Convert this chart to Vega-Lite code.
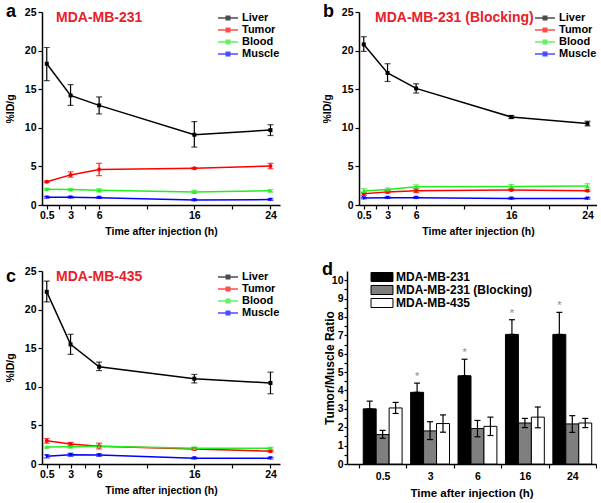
{
  "$schema": "https://vega.github.io/schema/vega-lite/v6.json",
  "autosize": {"type": "pad"},
  "padding": {"left": 5, "top": 3, "right": 0, "bottom": 0},
  "spacing": 24,
  "resolve": {"scale": {"x": "independent", "y": "independent", "color": "independent", "fill": "independent", "xOffset": "independent"}, "legend": {"color": "independent", "fill": "independent"}},
  "datasets": {
    "panelA": [
      {"t": 0.5, "organ": "Liver", "v": 18.3, "lo": 16.1, "hi": 20.4},
      {"t": 3, "organ": "Liver", "v": 14.2, "lo": 12.9, "hi": 15.6},
      {"t": 6, "organ": "Liver", "v": 12.9, "lo": 11.8, "hi": 14.0},
      {"t": 16, "organ": "Liver", "v": 9.1, "lo": 7.5, "hi": 10.8},
      {"t": 24, "organ": "Liver", "v": 9.7, "lo": 9.0, "hi": 10.4},
      {"t": 0.5, "organ": "Tumor", "v": 3.0, "lo": 2.9, "hi": 3.1},
      {"t": 3, "organ": "Tumor", "v": 3.9, "lo": 3.6, "hi": 4.3},
      {"t": 6, "organ": "Tumor", "v": 4.6, "lo": 3.8, "hi": 5.4},
      {"t": 16, "organ": "Tumor", "v": 4.75, "lo": 4.65, "hi": 4.85},
      {"t": 24, "organ": "Tumor", "v": 5.05, "lo": 4.7, "hi": 5.4},
      {"t": 0.5, "organ": "Blood", "v": 2.05, "lo": 1.95, "hi": 2.15},
      {"t": 3, "organ": "Blood", "v": 2.0, "lo": 1.9, "hi": 2.1},
      {"t": 6, "organ": "Blood", "v": 1.9, "lo": 1.7, "hi": 2.1},
      {"t": 16, "organ": "Blood", "v": 1.7, "lo": 1.5, "hi": 1.9},
      {"t": 24, "organ": "Blood", "v": 1.85, "lo": 1.7, "hi": 2.0},
      {"t": 0.5, "organ": "Muscle", "v": 1.0, "lo": 0.9, "hi": 1.1},
      {"t": 3, "organ": "Muscle", "v": 1.0, "lo": 0.9, "hi": 1.1},
      {"t": 6, "organ": "Muscle", "v": 0.95, "lo": 0.85, "hi": 1.05},
      {"t": 16, "organ": "Muscle", "v": 0.65, "lo": 0.55, "hi": 0.75},
      {"t": 24, "organ": "Muscle", "v": 0.7, "lo": 0.6, "hi": 0.8}
    ],
    "panelB": [
      {"t": 0.5, "organ": "Liver", "v": 20.8, "lo": 19.9, "hi": 21.8},
      {"t": 3, "organ": "Liver", "v": 17.1, "lo": 16.0, "hi": 18.3},
      {"t": 6, "organ": "Liver", "v": 15.1, "lo": 14.5, "hi": 15.7},
      {"t": 16, "organ": "Liver", "v": 11.4, "lo": 11.2, "hi": 11.6},
      {"t": 24, "organ": "Liver", "v": 10.55, "lo": 10.25, "hi": 10.85},
      {"t": 0.5, "organ": "Tumor", "v": 1.45, "lo": 1.25, "hi": 1.65},
      {"t": 3, "organ": "Tumor", "v": 1.7, "lo": 1.55, "hi": 1.85},
      {"t": 6, "organ": "Tumor", "v": 1.85, "lo": 1.6, "hi": 2.1},
      {"t": 16, "organ": "Tumor", "v": 1.95, "lo": 1.85, "hi": 2.05},
      {"t": 24, "organ": "Tumor", "v": 1.85, "lo": 1.75, "hi": 1.95},
      {"t": 0.5, "organ": "Blood", "v": 1.8, "lo": 1.5, "hi": 2.1},
      {"t": 3, "organ": "Blood", "v": 2.0, "lo": 1.8, "hi": 2.2},
      {"t": 6, "organ": "Blood", "v": 2.35, "lo": 2.1, "hi": 2.6},
      {"t": 16, "organ": "Blood", "v": 2.4, "lo": 2.15, "hi": 2.65},
      {"t": 24, "organ": "Blood", "v": 2.45, "lo": 2.2, "hi": 2.75},
      {"t": 0.5, "organ": "Muscle", "v": 0.9, "lo": 0.8, "hi": 1.0},
      {"t": 3, "organ": "Muscle", "v": 0.95, "lo": 0.85, "hi": 1.05},
      {"t": 6, "organ": "Muscle", "v": 0.95, "lo": 0.85, "hi": 1.05},
      {"t": 16, "organ": "Muscle", "v": 0.85, "lo": 0.75, "hi": 0.95},
      {"t": 24, "organ": "Muscle", "v": 0.85, "lo": 0.75, "hi": 0.95}
    ],
    "panelC": [
      {"t": 0.5, "organ": "Liver", "v": 22.3, "lo": 21.0, "hi": 23.7},
      {"t": 3, "organ": "Liver", "v": 15.5, "lo": 14.2, "hi": 16.8},
      {"t": 6, "organ": "Liver", "v": 12.6, "lo": 12.1, "hi": 13.2},
      {"t": 16, "organ": "Liver", "v": 11.05, "lo": 10.5, "hi": 11.6},
      {"t": 24, "organ": "Liver", "v": 10.5, "lo": 9.1, "hi": 11.9},
      {"t": 0.5, "organ": "Tumor", "v": 3.0, "lo": 2.7, "hi": 3.3},
      {"t": 3, "organ": "Tumor", "v": 2.6, "lo": 2.4, "hi": 2.8},
      {"t": 6, "organ": "Tumor", "v": 2.3, "lo": 1.95, "hi": 2.7},
      {"t": 16, "organ": "Tumor", "v": 1.95, "lo": 1.8, "hi": 2.1},
      {"t": 24, "organ": "Tumor", "v": 1.65, "lo": 1.55, "hi": 1.75},
      {"t": 0.5, "organ": "Blood", "v": 2.2, "lo": 2.1, "hi": 2.3},
      {"t": 3, "organ": "Blood", "v": 2.25, "lo": 2.1, "hi": 2.4},
      {"t": 6, "organ": "Blood", "v": 2.3, "lo": 2.15, "hi": 2.45},
      {"t": 16, "organ": "Blood", "v": 2.05, "lo": 1.9, "hi": 2.2},
      {"t": 24, "organ": "Blood", "v": 2.05, "lo": 1.95, "hi": 2.15},
      {"t": 0.5, "organ": "Muscle", "v": 1.0, "lo": 0.8, "hi": 1.2},
      {"t": 3, "organ": "Muscle", "v": 1.2, "lo": 1.0, "hi": 1.4},
      {"t": 6, "organ": "Muscle", "v": 1.15, "lo": 1.0, "hi": 1.3},
      {"t": 16, "organ": "Muscle", "v": 0.75, "lo": 0.65, "hi": 0.85},
      {"t": 24, "organ": "Muscle", "v": 0.75, "lo": 0.65, "hi": 0.85}
    ],
    "panelD": [
      {"t": "0.5", "g": "MDA-MB-231", "v": 3.0, "lo": 3.0, "hi": 3.42, "star": ""},
      {"t": "3", "g": "MDA-MB-231", "v": 3.9, "lo": 3.9, "hi": 4.4, "star": "*"},
      {"t": "6", "g": "MDA-MB-231", "v": 4.8, "lo": 4.8, "hi": 5.7, "star": "*"},
      {"t": "16", "g": "MDA-MB-231", "v": 7.05, "lo": 7.05, "hi": 7.85, "star": "*"},
      {"t": "24", "g": "MDA-MB-231", "v": 7.05, "lo": 7.05, "hi": 8.25, "star": "*"},
      {"t": "0.5", "g": "MDA-MB-231 (Blocking)", "v": 1.6, "lo": 1.4, "hi": 1.83, "star": ""},
      {"t": "3", "g": "MDA-MB-231 (Blocking)", "v": 1.8, "lo": 1.33, "hi": 2.3, "star": ""},
      {"t": "6", "g": "MDA-MB-231 (Blocking)", "v": 1.93, "lo": 1.48, "hi": 2.37, "star": ""},
      {"t": "16", "g": "MDA-MB-231 (Blocking)", "v": 2.23, "lo": 1.98, "hi": 2.48, "star": ""},
      {"t": "24", "g": "MDA-MB-231 (Blocking)", "v": 2.18, "lo": 1.72, "hi": 2.63, "star": ""},
      {"t": "0.5", "g": "MDA-MB-435", "v": 3.05, "lo": 2.75, "hi": 3.35, "star": ""},
      {"t": "3", "g": "MDA-MB-435", "v": 2.2, "lo": 1.73, "hi": 2.67, "star": ""},
      {"t": "6", "g": "MDA-MB-435", "v": 2.05, "lo": 1.55, "hi": 2.55, "star": ""},
      {"t": "16", "g": "MDA-MB-435", "v": 2.55, "lo": 1.97, "hi": 3.1, "star": ""},
      {"t": "24", "g": "MDA-MB-435", "v": 2.23, "lo": 1.98, "hi": 2.48, "star": ""}
    ]
  },
  "vconcat": [
    {
      "spacing": 79,
      "bounds": "flush",
      "resolve": {"scale": {"x": "independent", "y": "independent", "color": "independent"}, "legend": {"color": "independent"}},
      "hconcat": [
        {
          "width": 238, "height": 193,
          "title": {"text": "a", "anchor": "start", "frame": "group", "orient": "top", "offset": 0, "dx": -36, "dy": 28, "baseline": "alphabetic", "fontSize": 18, "fontWeight": "bold", "color": "black"},
          "data": {"name": "panelA"},
          "layer": [
            {
              "mark": {"type": "errorbar", "ticks": {"size": 6}, "thickness": 1.2},
              "encoding": {
                "x": {"field": "t", "type": "quantitative", "scale": {"domain": [0, 25], "nice": false}, "axis": {"values": [0.5, 1.75, 3, 4.5, 6, 11, 16, 20, 24], "labelExpr": "indexof([0.5,3,6,16,24], datum.value) >= 0 ? format(datum.value, '~g') : ''", "title": "Time after injection (h)", "labelFlush": false, "labelOverlap": false, "titlePadding": 6}},
                "y": {"field": "lo", "type": "quantitative", "scale": {"domain": [0, 25], "nice": false}, "axis": {"values": [0, 5, 10, 15, 20, 25], "title": "%ID/g", "titlePadding": 9, "labelOverlap": false}},
                "y2": {"field": "hi"},
                "color": {"field": "organ", "type": "nominal", "scale": {"domain": ["Liver", "Tumor", "Blood", "Muscle"], "range": ["black", "#ff0000", "#22ee22", "#0000ff"]}, "legend": {"title": null, "orient": "top-right", "offset": 0, "padding": 0, "symbolType": "M-2,0H2M-0.35,-0.35H0.35V0.35H-0.35Z", "symbolSize": 100, "symbolStrokeWidth": 1.5, "labelOffset": 8, "labelFontSize": 11, "labelFontWeight": "bold", "rowPadding": 1}}
              }
            },
            {
              "mark": {"type": "line", "strokeWidth": 1.5},
              "encoding": {
                "x": {"field": "t", "type": "quantitative", "axis": {"values": [0.5, 1.75, 3, 4.5, 6, 11, 16, 20, 24], "labelExpr": "indexof([0.5,3,6,16,24], datum.value) >= 0 ? format(datum.value, '~g') : ''", "title": "Time after injection (h)", "labelFlush": false, "labelOverlap": false, "titlePadding": 6}},
                "y": {"field": "v", "type": "quantitative", "axis": {"values": [0, 5, 10, 15, 20, 25], "title": "%ID/g", "titlePadding": 9, "labelOverlap": false}},
                "color": {"field": "organ", "type": "nominal"}
              }
            },
            {
              "transform": [{"filter": "datum.organ == 'Liver'"}],
              "mark": {"type": "point", "shape": "square", "filled": true, "size": 16, "opacity": 1},
              "encoding": {
                "x": {"field": "t", "type": "quantitative", "axis": {"values": [0.5, 1.75, 3, 4.5, 6, 11, 16, 20, 24], "labelExpr": "indexof([0.5,3,6,16,24], datum.value) >= 0 ? format(datum.value, '~g') : ''", "title": "Time after injection (h)", "labelFlush": false, "labelOverlap": false, "titlePadding": 6}},
                "y": {"field": "v", "type": "quantitative", "axis": {"values": [0, 5, 10, 15, 20, 25], "title": "%ID/g", "titlePadding": 9, "labelOverlap": false}},
                "color": {"field": "organ", "type": "nominal"}
              }
            },
            {
              "transform": [{"filter": "datum.organ == 'Tumor'"}],
              "mark": {"type": "point", "shape": "circle", "filled": true, "size": 16, "opacity": 1},
              "encoding": {
                "x": {"field": "t", "type": "quantitative", "axis": {"values": [0.5, 1.75, 3, 4.5, 6, 11, 16, 20, 24], "labelExpr": "indexof([0.5,3,6,16,24], datum.value) >= 0 ? format(datum.value, '~g') : ''", "title": "Time after injection (h)", "labelFlush": false, "labelOverlap": false, "titlePadding": 6}},
                "y": {"field": "v", "type": "quantitative", "axis": {"values": [0, 5, 10, 15, 20, 25], "title": "%ID/g", "titlePadding": 9, "labelOverlap": false}},
                "color": {"field": "organ", "type": "nominal"}
              }
            },
            {
              "transform": [{"filter": "datum.organ == 'Blood'"}],
              "mark": {"type": "point", "shape": "triangle-up", "filled": true, "size": 18, "opacity": 1},
              "encoding": {
                "x": {"field": "t", "type": "quantitative", "axis": {"values": [0.5, 1.75, 3, 4.5, 6, 11, 16, 20, 24], "labelExpr": "indexof([0.5,3,6,16,24], datum.value) >= 0 ? format(datum.value, '~g') : ''", "title": "Time after injection (h)", "labelFlush": false, "labelOverlap": false, "titlePadding": 6}},
                "y": {"field": "v", "type": "quantitative", "axis": {"values": [0, 5, 10, 15, 20, 25], "title": "%ID/g", "titlePadding": 9, "labelOverlap": false}},
                "color": {"field": "organ", "type": "nominal"}
              }
            },
            {
              "transform": [{"filter": "datum.organ == 'Muscle'"}],
              "mark": {"type": "point", "shape": "triangle-down", "filled": true, "size": 18, "opacity": 1},
              "encoding": {
                "x": {"field": "t", "type": "quantitative", "axis": {"values": [0.5, 1.75, 3, 4.5, 6, 11, 16, 20, 24], "labelExpr": "indexof([0.5,3,6,16,24], datum.value) >= 0 ? format(datum.value, '~g') : ''", "title": "Time after injection (h)", "labelFlush": false, "labelOverlap": false, "titlePadding": 6}},
                "y": {"field": "v", "type": "quantitative", "axis": {"values": [0, 5, 10, 15, 20, 25], "title": "%ID/g", "titlePadding": 9, "labelOverlap": false}},
                "color": {"field": "organ", "type": "nominal"}
              }
            },
            {
              "data": {"values": [{"label": "MDA-MB-231"}]},
              "mark": {"type": "text", "align": "left", "baseline": "alphabetic", "fontSize": 14, "fontWeight": "bold", "color": "#e8202a"},
              "encoding": {
                "x": {"datum": 1.47, "type": "quantitative", "axis": {"values": [0.5, 1.75, 3, 4.5, 6, 11, 16, 20, 24], "labelExpr": "indexof([0.5,3,6,16,24], datum.value) >= 0 ? format(datum.value, '~g') : ''", "title": "Time after injection (h)", "labelFlush": false, "labelOverlap": false, "titlePadding": 6}},
                "y": {"datum": 23.7, "type": "quantitative", "axis": {"values": [0, 5, 10, 15, 20, 25], "title": "%ID/g", "titlePadding": 9, "labelOverlap": false}},
                "text": {"field": "label"}
              }
            }
          ]
        },
        {
          "width": 238, "height": 193,
          "title": {"text": "b", "anchor": "start", "frame": "group", "orient": "top", "offset": 0, "dx": -36, "dy": 28, "baseline": "alphabetic", "fontSize": 18, "fontWeight": "bold", "color": "black"},
          "data": {"name": "panelB"},
          "layer": [
            {
              "mark": {"type": "errorbar", "ticks": {"size": 6}, "thickness": 1.2},
              "encoding": {
                "x": {"field": "t", "type": "quantitative", "scale": {"domain": [0, 25], "nice": false}, "axis": {"values": [0.5, 1.75, 3, 4.5, 6, 11, 16, 20, 24], "labelExpr": "indexof([0.5,3,6,16,24], datum.value) >= 0 ? format(datum.value, '~g') : ''", "title": "Time after injection (h)", "labelFlush": false, "labelOverlap": false, "titlePadding": 6}},
                "y": {"field": "lo", "type": "quantitative", "scale": {"domain": [0, 25], "nice": false}, "axis": {"values": [0, 5, 10, 15, 20, 25], "title": "%ID/g", "titlePadding": 9, "labelOverlap": false}},
                "y2": {"field": "hi"},
                "color": {"field": "organ", "type": "nominal", "scale": {"domain": ["Liver", "Tumor", "Blood", "Muscle"], "range": ["black", "#ff0000", "#22ee22", "#0000ff"]}, "legend": {"title": null, "orient": "top-right", "offset": 0, "padding": 0, "symbolType": "M-2,0H2M-0.35,-0.35H0.35V0.35H-0.35Z", "symbolSize": 100, "symbolStrokeWidth": 1.5, "labelOffset": 8, "labelFontSize": 11, "labelFontWeight": "bold", "rowPadding": 1}}
              }
            },
            {
              "mark": {"type": "line", "strokeWidth": 1.5},
              "encoding": {
                "x": {"field": "t", "type": "quantitative", "axis": {"values": [0.5, 1.75, 3, 4.5, 6, 11, 16, 20, 24], "labelExpr": "indexof([0.5,3,6,16,24], datum.value) >= 0 ? format(datum.value, '~g') : ''", "title": "Time after injection (h)", "labelFlush": false, "labelOverlap": false, "titlePadding": 6}},
                "y": {"field": "v", "type": "quantitative", "axis": {"values": [0, 5, 10, 15, 20, 25], "title": "%ID/g", "titlePadding": 9, "labelOverlap": false}},
                "color": {"field": "organ", "type": "nominal"}
              }
            },
            {
              "transform": [{"filter": "datum.organ == 'Liver'"}],
              "mark": {"type": "point", "shape": "square", "filled": true, "size": 16, "opacity": 1},
              "encoding": {
                "x": {"field": "t", "type": "quantitative", "axis": {"values": [0.5, 1.75, 3, 4.5, 6, 11, 16, 20, 24], "labelExpr": "indexof([0.5,3,6,16,24], datum.value) >= 0 ? format(datum.value, '~g') : ''", "title": "Time after injection (h)", "labelFlush": false, "labelOverlap": false, "titlePadding": 6}},
                "y": {"field": "v", "type": "quantitative", "axis": {"values": [0, 5, 10, 15, 20, 25], "title": "%ID/g", "titlePadding": 9, "labelOverlap": false}},
                "color": {"field": "organ", "type": "nominal"}
              }
            },
            {
              "transform": [{"filter": "datum.organ == 'Tumor'"}],
              "mark": {"type": "point", "shape": "circle", "filled": true, "size": 16, "opacity": 1},
              "encoding": {
                "x": {"field": "t", "type": "quantitative", "axis": {"values": [0.5, 1.75, 3, 4.5, 6, 11, 16, 20, 24], "labelExpr": "indexof([0.5,3,6,16,24], datum.value) >= 0 ? format(datum.value, '~g') : ''", "title": "Time after injection (h)", "labelFlush": false, "labelOverlap": false, "titlePadding": 6}},
                "y": {"field": "v", "type": "quantitative", "axis": {"values": [0, 5, 10, 15, 20, 25], "title": "%ID/g", "titlePadding": 9, "labelOverlap": false}},
                "color": {"field": "organ", "type": "nominal"}
              }
            },
            {
              "transform": [{"filter": "datum.organ == 'Blood'"}],
              "mark": {"type": "point", "shape": "triangle-up", "filled": true, "size": 18, "opacity": 1},
              "encoding": {
                "x": {"field": "t", "type": "quantitative", "axis": {"values": [0.5, 1.75, 3, 4.5, 6, 11, 16, 20, 24], "labelExpr": "indexof([0.5,3,6,16,24], datum.value) >= 0 ? format(datum.value, '~g') : ''", "title": "Time after injection (h)", "labelFlush": false, "labelOverlap": false, "titlePadding": 6}},
                "y": {"field": "v", "type": "quantitative", "axis": {"values": [0, 5, 10, 15, 20, 25], "title": "%ID/g", "titlePadding": 9, "labelOverlap": false}},
                "color": {"field": "organ", "type": "nominal"}
              }
            },
            {
              "transform": [{"filter": "datum.organ == 'Muscle'"}],
              "mark": {"type": "point", "shape": "triangle-down", "filled": true, "size": 18, "opacity": 1},
              "encoding": {
                "x": {"field": "t", "type": "quantitative", "axis": {"values": [0.5, 1.75, 3, 4.5, 6, 11, 16, 20, 24], "labelExpr": "indexof([0.5,3,6,16,24], datum.value) >= 0 ? format(datum.value, '~g') : ''", "title": "Time after injection (h)", "labelFlush": false, "labelOverlap": false, "titlePadding": 6}},
                "y": {"field": "v", "type": "quantitative", "axis": {"values": [0, 5, 10, 15, 20, 25], "title": "%ID/g", "titlePadding": 9, "labelOverlap": false}},
                "color": {"field": "organ", "type": "nominal"}
              }
            },
            {
              "data": {"values": [{"label": "MDA-MB-231 (Blocking)"}]},
              "mark": {"type": "text", "align": "left", "baseline": "alphabetic", "fontSize": 14, "fontWeight": "bold", "color": "#e8202a"},
              "encoding": {
                "x": {"datum": 1.68, "type": "quantitative", "axis": {"values": [0.5, 1.75, 3, 4.5, 6, 11, 16, 20, 24], "labelExpr": "indexof([0.5,3,6,16,24], datum.value) >= 0 ? format(datum.value, '~g') : ''", "title": "Time after injection (h)", "labelFlush": false, "labelOverlap": false, "titlePadding": 6}},
                "y": {"datum": 23.7, "type": "quantitative", "axis": {"values": [0, 5, 10, 15, 20, 25], "title": "%ID/g", "titlePadding": 9, "labelOverlap": false}},
                "text": {"field": "label"}
              }
            }
          ]
        }
      ]
    },
    {
      "spacing": 67,
      "bounds": "flush",
      "resolve": {"scale": {"x": "independent", "y": "independent", "color": "independent", "fill": "independent", "xOffset": "independent"}, "legend": {"color": "independent", "fill": "independent"}},
      "hconcat": [
        {
          "width": 238, "height": 193,
          "title": {"text": "c", "anchor": "start", "frame": "group", "orient": "top", "offset": 0, "dx": -36, "dy": 34, "baseline": "alphabetic", "fontSize": 18, "fontWeight": "bold", "color": "black"},
          "data": {"name": "panelC"},
          "layer": [
            {
              "mark": {"type": "errorbar", "ticks": {"size": 6}, "thickness": 1.2},
              "encoding": {
                "x": {"field": "t", "type": "quantitative", "scale": {"domain": [0, 25], "nice": false}, "axis": {"values": [0.5, 1.75, 3, 4.5, 6, 11, 16, 20, 24], "labelExpr": "indexof([0.5,3,6,16,24], datum.value) >= 0 ? format(datum.value, '~g') : ''", "title": "Time after injection (h)", "labelFlush": false, "labelOverlap": false, "titlePadding": 6}},
                "y": {"field": "lo", "type": "quantitative", "scale": {"domain": [0, 25], "nice": false}, "axis": {"values": [0, 5, 10, 15, 20, 25], "title": "%ID/g", "titlePadding": 9, "labelOverlap": false}},
                "y2": {"field": "hi"},
                "color": {"field": "organ", "type": "nominal", "scale": {"domain": ["Liver", "Tumor", "Blood", "Muscle"], "range": ["black", "#ff0000", "#22ee22", "#0000ff"]}, "legend": {"title": null, "orient": "top-right", "offset": 0, "padding": 0, "symbolType": "M-2,0H2M-0.35,-0.35H0.35V0.35H-0.35Z", "symbolSize": 100, "symbolStrokeWidth": 1.5, "labelOffset": 8, "labelFontSize": 11, "labelFontWeight": "bold", "rowPadding": 1}}
              }
            },
            {
              "mark": {"type": "line", "strokeWidth": 1.5},
              "encoding": {
                "x": {"field": "t", "type": "quantitative", "axis": {"values": [0.5, 1.75, 3, 4.5, 6, 11, 16, 20, 24], "labelExpr": "indexof([0.5,3,6,16,24], datum.value) >= 0 ? format(datum.value, '~g') : ''", "title": "Time after injection (h)", "labelFlush": false, "labelOverlap": false, "titlePadding": 6}},
                "y": {"field": "v", "type": "quantitative", "axis": {"values": [0, 5, 10, 15, 20, 25], "title": "%ID/g", "titlePadding": 9, "labelOverlap": false}},
                "color": {"field": "organ", "type": "nominal"}
              }
            },
            {
              "transform": [{"filter": "datum.organ == 'Liver'"}],
              "mark": {"type": "point", "shape": "square", "filled": true, "size": 16, "opacity": 1},
              "encoding": {
                "x": {"field": "t", "type": "quantitative", "axis": {"values": [0.5, 1.75, 3, 4.5, 6, 11, 16, 20, 24], "labelExpr": "indexof([0.5,3,6,16,24], datum.value) >= 0 ? format(datum.value, '~g') : ''", "title": "Time after injection (h)", "labelFlush": false, "labelOverlap": false, "titlePadding": 6}},
                "y": {"field": "v", "type": "quantitative", "axis": {"values": [0, 5, 10, 15, 20, 25], "title": "%ID/g", "titlePadding": 9, "labelOverlap": false}},
                "color": {"field": "organ", "type": "nominal"}
              }
            },
            {
              "transform": [{"filter": "datum.organ == 'Tumor'"}],
              "mark": {"type": "point", "shape": "circle", "filled": true, "size": 16, "opacity": 1},
              "encoding": {
                "x": {"field": "t", "type": "quantitative", "axis": {"values": [0.5, 1.75, 3, 4.5, 6, 11, 16, 20, 24], "labelExpr": "indexof([0.5,3,6,16,24], datum.value) >= 0 ? format(datum.value, '~g') : ''", "title": "Time after injection (h)", "labelFlush": false, "labelOverlap": false, "titlePadding": 6}},
                "y": {"field": "v", "type": "quantitative", "axis": {"values": [0, 5, 10, 15, 20, 25], "title": "%ID/g", "titlePadding": 9, "labelOverlap": false}},
                "color": {"field": "organ", "type": "nominal"}
              }
            },
            {
              "transform": [{"filter": "datum.organ == 'Blood'"}],
              "mark": {"type": "point", "shape": "triangle-up", "filled": true, "size": 18, "opacity": 1},
              "encoding": {
                "x": {"field": "t", "type": "quantitative", "axis": {"values": [0.5, 1.75, 3, 4.5, 6, 11, 16, 20, 24], "labelExpr": "indexof([0.5,3,6,16,24], datum.value) >= 0 ? format(datum.value, '~g') : ''", "title": "Time after injection (h)", "labelFlush": false, "labelOverlap": false, "titlePadding": 6}},
                "y": {"field": "v", "type": "quantitative", "axis": {"values": [0, 5, 10, 15, 20, 25], "title": "%ID/g", "titlePadding": 9, "labelOverlap": false}},
                "color": {"field": "organ", "type": "nominal"}
              }
            },
            {
              "transform": [{"filter": "datum.organ == 'Muscle'"}],
              "mark": {"type": "point", "shape": "triangle-down", "filled": true, "size": 18, "opacity": 1},
              "encoding": {
                "x": {"field": "t", "type": "quantitative", "axis": {"values": [0.5, 1.75, 3, 4.5, 6, 11, 16, 20, 24], "labelExpr": "indexof([0.5,3,6,16,24], datum.value) >= 0 ? format(datum.value, '~g') : ''", "title": "Time after injection (h)", "labelFlush": false, "labelOverlap": false, "titlePadding": 6}},
                "y": {"field": "v", "type": "quantitative", "axis": {"values": [0, 5, 10, 15, 20, 25], "title": "%ID/g", "titlePadding": 9, "labelOverlap": false}},
                "color": {"field": "organ", "type": "nominal"}
              }
            },
            {
              "data": {"values": [{"label": "MDA-MB-435"}]},
              "mark": {"type": "text", "align": "left", "baseline": "alphabetic", "fontSize": 14, "fontWeight": "bold", "color": "#e8202a"},
              "encoding": {
                "x": {"datum": 1.47, "type": "quantitative", "axis": {"values": [0.5, 1.75, 3, 4.5, 6, 11, 16, 20, 24], "labelExpr": "indexof([0.5,3,6,16,24], datum.value) >= 0 ? format(datum.value, '~g') : ''", "title": "Time after injection (h)", "labelFlush": false, "labelOverlap": false, "titlePadding": 6}},
                "y": {"datum": 23.7, "type": "quantitative", "axis": {"values": [0, 5, 10, 15, 20, 25], "title": "%ID/g", "titlePadding": 9, "labelOverlap": false}},
                "text": {"field": "label"}
              }
            }
          ]
        },
        {
          "width": 249, "height": 193,
          "title": {"text": "d", "anchor": "start", "frame": "group", "orient": "top", "offset": 0, "dx": -25, "dy": 22, "baseline": "alphabetic", "fontSize": 18, "fontWeight": "bold", "color": "black"},
          "data": {"name": "panelD"},
          "encoding": {
            "x": {"field": "t", "type": "nominal", "sort": null,
              "scale": {"domain": ["0.5", "3", "6", "16", "24"], "paddingInner": 0, "paddingOuter": 0.126, "align": 1},
              "axis": {"title": "Time after injection (h)", "labelAngle": 0, "tickBand": "extent", "labelPadding": 3, "titlePadding": 6, "titleFontSize": 11.5}},
            "xOffset": {"field": "g", "type": "nominal", "sort": null,
              "scale": {"domain": ["MDA-MB-231", "MDA-MB-231 (Blocking)", "MDA-MB-435"], "paddingInner": 0, "paddingOuter": 0.33}}
          },
          "layer": [
            {
              "mark": {"type": "bar", "stroke": "black", "strokeWidth": 1},
              "encoding": {
                "y": {"field": "v", "type": "quantitative", "scale": {"domain": [0, 10.5], "nice": false},
                  "axis": {"values": [0, 0.5, 1, 1.5, 2, 2.5, 3, 3.5, 4, 4.5, 5, 5.5, 6, 6.5, 7, 7.5, 8, 8.5, 9, 9.5, 10], "labelExpr": "datum.value % 1 == 0 ? format(datum.value, 'd') : ''", "labelOverlap": false, "tickSize": 3, "labelPadding": 1, "title": "Tumor/Muscle Ratio", "titlePadding": -5, "titleFontSize": 12}},
                "fill": {"field": "g", "type": "nominal", "sort": null,
                  "scale": {"domain": ["MDA-MB-231", "MDA-MB-231 (Blocking)", "MDA-MB-435"], "range": ["black", "#7f7f7f", "white"]},
                  "legend": {"title": null, "orient": "none", "legendX": 29, "legendY": 0, "padding": 0, "symbolType": "M-2.44,-1H2.44V1H-2.44Z", "symbolSize": 81, "symbolStrokeColor": "black", "symbolStrokeWidth": 1, "labelOffset": 8, "labelFontSize": 12, "labelFontWeight": "bold", "rowPadding": -1.5}}
              }
            },
            {
              "mark": {"type": "rule", "strokeWidth": 1.2, "color": "black"},
              "encoding": {"y": {"field": "lo", "type": "quantitative", "axis": {"values": [0, 0.5, 1, 1.5, 2, 2.5, 3, 3.5, 4, 4.5, 5, 5.5, 6, 6.5, 7, 7.5, 8, 8.5, 9, 9.5, 10], "labelExpr": "datum.value % 1 == 0 ? format(datum.value, 'd') : ''", "labelOverlap": false, "tickSize": 3, "labelPadding": 1, "title": "Tumor/Muscle Ratio", "titlePadding": -5, "titleFontSize": 12}}, "y2": {"field": "hi"}}
            },
            {
              "mark": {"type": "tick", "size": 6, "thickness": 1.2, "color": "black", "opacity": 1},
              "encoding": {"y": {"field": "hi", "type": "quantitative", "axis": {"values": [0, 0.5, 1, 1.5, 2, 2.5, 3, 3.5, 4, 4.5, 5, 5.5, 6, 6.5, 7, 7.5, 8, 8.5, 9, 9.5, 10], "labelExpr": "datum.value % 1 == 0 ? format(datum.value, 'd') : ''", "labelOverlap": false, "tickSize": 3, "labelPadding": 1, "title": "Tumor/Muscle Ratio", "titlePadding": -5, "titleFontSize": 12}}}
            },
            {
              "mark": {"type": "tick", "size": 6, "thickness": 1.2, "color": "black", "opacity": 1},
              "encoding": {"y": {"field": "lo", "type": "quantitative", "axis": {"values": [0, 0.5, 1, 1.5, 2, 2.5, 3, 3.5, 4, 4.5, 5, 5.5, 6, 6.5, 7, 7.5, 8, 8.5, 9, 9.5, 10], "labelExpr": "datum.value % 1 == 0 ? format(datum.value, 'd') : ''", "labelOverlap": false, "tickSize": 3, "labelPadding": 1, "title": "Tumor/Muscle Ratio", "titlePadding": -5, "titleFontSize": 12}}}
            },
            {
              "mark": {"type": "text", "baseline": "bottom", "dy": -1, "fontSize": 11, "color": "#8a8a8a"},
              "encoding": {"y": {"field": "hi", "type": "quantitative", "axis": {"values": [0, 0.5, 1, 1.5, 2, 2.5, 3, 3.5, 4, 4.5, 5, 5.5, 6, 6.5, 7, 7.5, 8, 8.5, 9, 9.5, 10], "labelExpr": "datum.value % 1 == 0 ? format(datum.value, 'd') : ''", "labelOverlap": false, "tickSize": 3, "labelPadding": 1, "title": "Tumor/Muscle Ratio", "titlePadding": -5, "titleFontSize": 12}}, "text": {"field": "star"}}
            }
          ]
        }
      ]
    }
  ],
  "config": {
    "font": "Liberation Sans",
    "view": {"stroke": null},
    "axis": {"grid": false, "labelOverlap": false, "domainColor": "black", "domainWidth": 1.5, "tickColor": "black", "tickWidth": 1.2, "tickSize": 4, "labelColor": "black", "labelFontSize": 10.5, "labelFontWeight": "bold", "labelPadding": 1, "titleColor": "black", "titleFontSize": 10.5, "titleFontWeight": "bold"},
    "axisY": {"labelPadding": 2},
    "legend": {"labelColor": "black"}
  }
}
